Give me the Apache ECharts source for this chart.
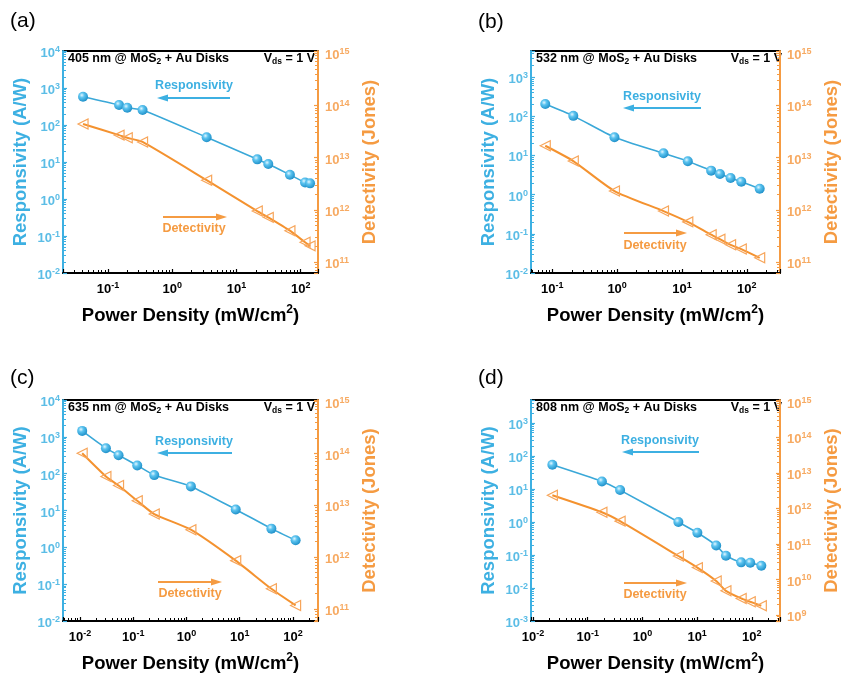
<!DOCTYPE html>
<html><head><meta charset="utf-8">
<script src="https://cdn.jsdelivr.net/npm/echarts@6/dist/echarts.min.js"></script>
<style>html,body{margin:0;padding:0;background:#fff}#c{width:842px;height:674px}</style>
</head><body><div id="c"></div>
<script>
// ---- Data ----
// (a) 405 nm
const powerA = [0.041, 0.149, 0.20, 0.346, 3.44, 21.1, 31.3, 68, 117, 140];
const respA  = [582, 347, 294, 254, 46.6, 11.8, 8.8, 4.5, 2.8, 2.65];
const detA   = [4.4e13, 2.7e13, 2.4e13, 2.0e13, 3.7e12, 9.5e11, 7.2e11, 4.0e11, 2.4e11, 2.05e11];
// (b) 532 nm
const powerB = [0.078, 0.211, 0.91, 5.19, 12.3, 28.2, 38.5, 56.2, 82.2, 158];
const respB  = [204, 102, 29.1, 11.3, 7.08, 4.08, 3.36, 2.65, 2.13, 1.41];
const detB   = [1.69e13, 8.6e12, 2.3e12, 9.5e11, 5.9e11, 3.35e11, 2.76e11, 2.15e11, 1.78e11, 1.21e11];
// (c) 635 nm
const powerC = [0.011, 0.0307, 0.053, 0.119, 0.248, 1.21, 8.41, 39.3, 112];
const respC  = [1450, 492, 318, 167, 91.4, 45.1, 10.7, 3.22, 1.56];
const detC   = [1.01e14, 3.6e13, 2.4e13, 1.22e13, 6.76e12, 3.37e12, 8.5e11, 2.43e11, 1.16e11];
// (d) 808 nm
const powerD = [0.0226, 0.182, 0.391, 4.54, 10.1, 22.3, 33.6, 63.8, 93.4, 149];
const respD  = [53.6, 16.8, 9.19, 0.99, 0.47, 0.194, 0.095, 0.0596, 0.0582, 0.0472];
const detD   = [2.34e12, 7.8e11, 4.38e11, 4.58e10, 2.16e10, 9.1e9, 4.8e9, 2.93e9, 2.37e9, 1.83e9];

const panelLabels = ['(a)', '(b)', '(c)', '(d)'];
const wavelengths = ['405', '532', '635', '808'];

// ---- Layout / style ----
const BLUE = '#3DB0E2', BLUE_LINE = '#3AA8D8', ORANGE = '#F59B42', ORANGE_LINE = '#F4922F';
const FONT = '"Liberation Sans", Arial, sans-serif';
const layout = [
  {grid: {left: 63, top: 51, width: 255, height: 222}, xr: [0.02, 186], lr: [0.01, 1e4], rr: [6.2e10, 1.1e15],
   lbl: [10, 21], ttl: [68, 315, 59], resp: [194, 86, 98, 230, 157], det: [194, 229, 217, 163, 227]},
  {grid: {left: 531, top: 51, width: 256, height: 222}, xr: [0.047, 325], lr: [0.01, 4600], rr: [6.2e10, 1.1e15],
   lbl: [478, 22], ttl: [536, 782, 59], resp: [662, 97, 108, 701, 623], det: [655, 246, 233, 624, 687]},
  {grid: {left: 63, top: 400, width: 255, height: 222}, xr: [0.0048, 295], lr: [0.01, 1e4], rr: [5.8e10, 1.08e15],
   lbl: [10, 378], ttl: [68, 315, 408], resp: [194, 442, 453, 232, 157], det: [190, 594, 582, 158, 222]},
  {grid: {left: 531, top: 400, width: 256, height: 222}, xr: [0.0092, 327], lr: [0.001, 4900], rr: [6.8e8, 1.12e15],
   lbl: [478, 378], ttl: [536, 782, 408], resp: [660, 441, 452, 699, 622], det: [655, 595, 583, 624, 687]}
];
const powers = [powerA, powerB, powerC, powerD];
const resps = [respA, respB, respC, respD];
const dets = [detA, detB, detC, detD];

function powLabel(v) {
  const e = Math.log10(v), r = Math.round(e);
  if (Math.abs(e - r) > 1e-6) return '';
  return '{b|10}{s|' + r + '}';
}
function tickRich(color) {
  return {
    b: {fontSize: 13, fontWeight: 'bold', color: color, fontFamily: FONT, lineHeight: 18, verticalAlign: 'bottom'},
    s: {fontSize: 9, fontWeight: 'bold', color: color, fontFamily: FONT, lineHeight: 18, verticalAlign: 'bottom', padding: [0, 0, 6, 0]}
  };
}
function nameRich(color) {
  return {
    b: {fontSize: 18.5, fontWeight: 'bold', color: color, fontFamily: FONT, lineHeight: 24, verticalAlign: 'bottom'},
    s: {fontSize: 12, fontWeight: 'bold', color: color, fontFamily: FONT, lineHeight: 24, verticalAlign: 'bottom', padding: [0, 0, 9, 0]}
  };
}

const grids = [], xAxes = [], yAxes = [], series = [], graphics = [];
layout.forEach((L, i) => {
  grids.push(Object.assign({show: true, borderColor: '#000', borderWidth: 2, backgroundColor: 'transparent'}, L.grid));
  xAxes.push({
    type: 'log', gridIndex: i, min: L.xr[0], max: L.xr[1],
    name: '{b|Power Density (mW/cm}{s|2}{b|)}', nameLocation: 'middle', nameGap: 28,
    nameTextStyle: {rich: nameRich('#000')},
    axisLine: {lineStyle: {color: '#000', width: 2}},
    axisTick: {inside: true, length: 4, lineStyle: {color: '#000', width: 1.2}},
    minorTick: {show: true, splitNumber: 9, length: 3, lineStyle: {color: '#000', width: 1}},
    splitLine: {show: false},
    axisLabel: {margin: 5, formatter: powLabel, rich: tickRich('#000')}
  });
  yAxes.push({
    type: 'log', gridIndex: i, position: 'left', min: L.lr[0], max: L.lr[1],
    name: '{b|Responsivity (A/W)}', nameLocation: 'middle', nameGap: 33, nameRotate: 90,
    nameTextStyle: {rich: nameRich(BLUE)},
    axisLine: {lineStyle: {color: BLUE, width: 2}},
    axisTick: {inside: true, length: 4, lineStyle: {color: BLUE, width: 1.2}},
    minorTick: {show: true, splitNumber: 9, length: 3, lineStyle: {color: BLUE, width: 1}},
    splitLine: {show: false},
    axisLabel: {margin: 3, formatter: powLabel, rich: tickRich('#5BBDE6')}
  });
  yAxes.push({
    type: 'log', gridIndex: i, position: 'right', min: L.rr[0], max: L.rr[1],
    name: '{b|Detectivity (Jones)}', nameLocation: 'middle', nameGap: 37, nameRotate: 90,
    nameTextStyle: {rich: nameRich(ORANGE)},
    axisLine: {lineStyle: {color: ORANGE, width: 2}},
    axisTick: {inside: true, length: 4, lineStyle: {color: ORANGE, width: 1.2}},
    minorTick: {show: true, splitNumber: 9, length: 3, lineStyle: {color: ORANGE, width: 1}},
    splitLine: {show: false},
    axisLabel: {margin: 7, formatter: powLabel, rich: tickRich('#F7AA62')}
  });
  const P = powers[i];
  series.push({
    type: 'line', xAxisIndex: i, yAxisIndex: 2 * i + 1, z: 2,
    data: P.map((x, k) => [x, dets[i][k]]), smooth: 0.2,
    symbol: 'triangle', symbolRotate: 90, symbolSize: 10,
    lineStyle: {color: ORANGE_LINE, width: 2},
    itemStyle: {color: 'rgba(255,255,255,0)', borderColor: '#F7A55A', borderWidth: 1.2}
  });
  series.push({
    type: 'line', xAxisIndex: i, yAxisIndex: 2 * i, z: 3,
    data: P.map((x, k) => [x, resps[i][k]]), smooth: 0.2,
    symbol: 'circle', symbolSize: 10,
    lineStyle: {color: BLUE_LINE, width: 1.6},
    itemStyle: {
      color: {type: 'radial', x: 0.38, y: 0.35, r: 0.7, colorStops: [
        {offset: 0, color: '#e2f6ff'}, {offset: 0.35, color: '#5cc4f0'}, {offset: 1, color: '#1a8cc6'}]},
      borderWidth: 0
    }
  });
  graphics.push({type: 'text', x: L.lbl[0], y: L.lbl[1],
    style: {text: panelLabels[i], fontSize: 21, fontFamily: FONT, fill: '#000', verticalAlign: 'middle', align: 'left'}});
  const tRich = {t: {fontSize: 12.5, fontWeight: 'bold', fontFamily: FONT, fill: '#000', lineHeight: 14, verticalAlign: 'top'},
                 u: {fontSize: 8.5, fontWeight: 'bold', fontFamily: FONT, fill: '#000', lineHeight: 8, verticalAlign: 'bottom'}};
  graphics.push({type: 'text', x: L.ttl[0], y: L.ttl[2],
    style: {text: '{t|' + wavelengths[i] + ' nm @ MoS}{u|2}{t| + Au Disks}', rich: tRich, align: 'left', verticalAlign: 'middle'}});
  graphics.push({type: 'text', x: L.ttl[1], y: L.ttl[2],
    style: {text: '{t|V}{u|ds}{t| = 1 V}', rich: tRich, align: 'right', verticalAlign: 'middle'}});
  graphics.push({type: 'text', x: L.resp[0], y: L.resp[1],
    style: {text: 'Responsivity', fontSize: 12.5, fontWeight: 'bold', fontFamily: FONT, fill: BLUE, align: 'center', verticalAlign: 'middle'}});
  graphics.push({type: 'text', x: L.det[0], y: L.det[1],
    style: {text: 'Detectivity', fontSize: 12.5, fontWeight: 'bold', fontFamily: FONT, fill: ORANGE, align: 'center', verticalAlign: 'middle'}});
  graphics.push(arrow(L.resp[3], L.resp[4], L.resp[2], BLUE));
  graphics.push(arrow(L.det[3], L.det[4], L.det[2], ORANGE));
});

function arrow(x1, x2, y, color) {
  const dir = x2 > x1 ? 1 : -1, hl = 11, hw = 3.5;
  return {type: 'group', children: [
    {type: 'line', shape: {x1: x1, y1: y, x2: x2 - dir * hl + dir, y2: y}, style: {stroke: color, lineWidth: 2}},
    {type: 'polygon', shape: {points: [[x2, y], [x2 - dir * hl, y - hw], [x2 - dir * hl, y + hw]]}, style: {fill: color}}
  ]};
}

const chart = echarts.init(document.getElementById('c'), null, {renderer: 'canvas'});
chart.setOption({
  animation: false,
  backgroundColor: '#fff',
  textStyle: {fontFamily: FONT},
  grid: grids, xAxis: xAxes, yAxis: yAxes, series: series, graphic: graphics
});
</script></body></html>
